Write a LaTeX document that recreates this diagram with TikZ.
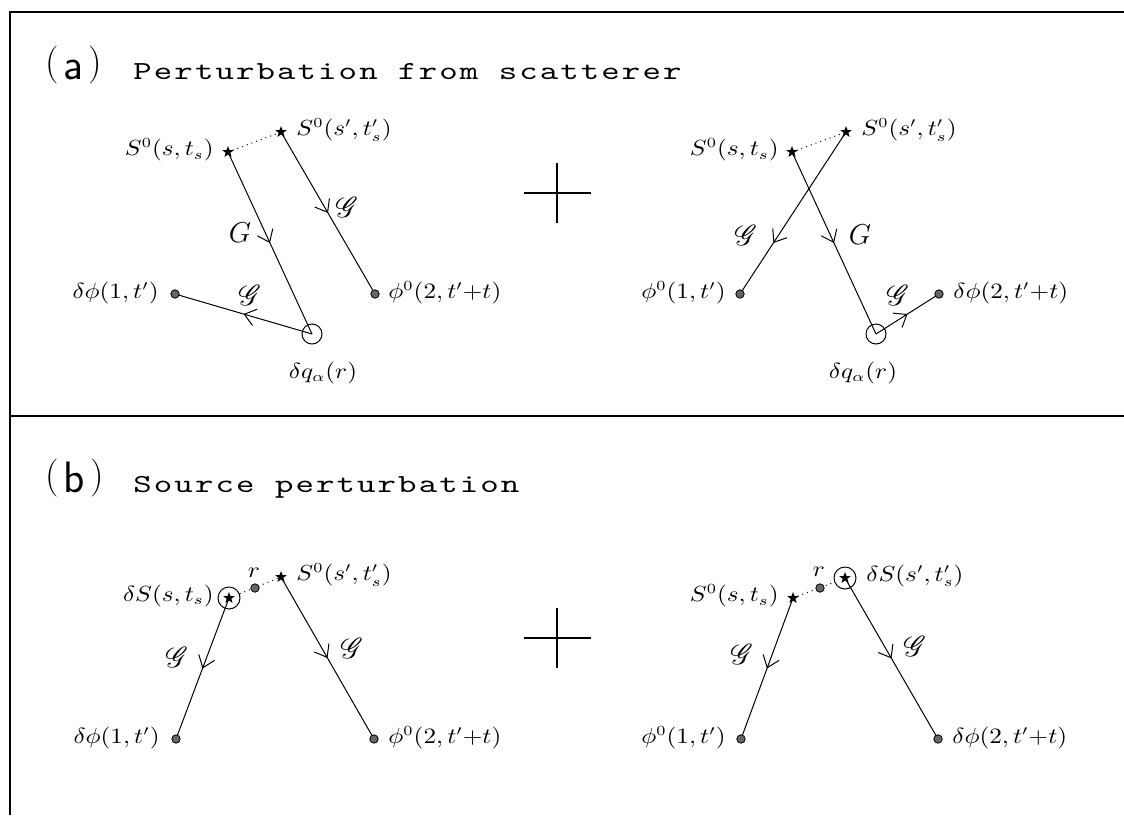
\documentclass[tikz,border=0pt]{standalone}
\usepackage{fontspec}
\usepackage{graphicx}
\usepackage{amsmath,amssymb}
\usepackage{mathrsfs}
\usetikzlibrary{arrows.meta,shapes.geometric,decorations.markings}
\pgfdeclarelayer{bg}
\pgfsetlayers{bg,main}
\newfontfamily\titlefont{lmmono10-regular.otf}[LetterSpace=6]
\newcommand\G{\mathscr{G}}
\newcommand\parthead[1]{\fontsize{19}{22}\selectfont\raisebox{2.5pt}{(}\hspace{2.5pt}{\sffamily\fontsize{22}{24}\selectfont #1}\hspace{2.5pt}\raisebox{2.5pt}{)}}
\newcommand\wide[1]{\scalebox{1.35}[1]{#1}}
\newcommand\lb[1]{\scalebox{1.15}[1]{$#1$}}

\tikzset{
  frame/.style={line width=0.7pt},
  lab/.style={font=\fontsize{10.5}{12}\selectfont, inner sep=1pt},
  big/.style={font=\fontsize{15}{17}\selectfont, inner sep=1pt},
  src/.style={star, star points=5, star point ratio=2.4, fill=black, inner sep=0pt, minimum size=6pt},
  rec/.style={circle, fill=black!60, draw=black, line width=0.4pt, inner sep=0pt, minimum size=4.2pt},
  scat/.style={circle, draw, line width=0.5pt, inner sep=0pt, minimum size=10pt},
  ring/.style={circle, draw, line width=0.5pt, inner sep=0pt, minimum size=11pt},
  prop/.style={line width=0.5pt, postaction={decorate},
    decoration={markings, mark=at position #1 with {\arrow{Straight Barb[length=5.5pt,width=8.5pt]}}}},
  prop/.default=0.5,
  link/.style={line width=0.5pt, dotted},
  plus/.style={line width=1.3pt},
  head/.style={anchor=base west, inner sep=0pt},
  title/.style={anchor=base west, inner sep=0pt, font=\titlefont\fontsize{13}{15}\selectfont}
}

\begin{document}
\begin{tikzpicture}[x=0.5pt,y=-0.5pt]
  \useasboundingbox (0,0) rectangle (1124,815);
  \draw[frame] (10,815) -- (10,12) -- (1124,12);
  \draw[frame] (10,416) -- (1124,416);

  % (a) perturbation from scatterer
  \node[head] (ta) at (45,79) {\parthead{a}};
  \node[title] (tta) at (133,79) {\wide{Perturbation from scatterer}};

  \node[src] (s1) at (228,152) {};
  \node[src] (s2) at (281,132) {};
  \node[scat] (q1) at (312,334) {};
  \node[rec] (r1) at (175,294) {};
  \node[rec] (r2) at (375,294) {};
  \node[lab, anchor=east] (ls1) at (216,150) {\lb{S^0(s,t_s)}};
  \node[lab, anchor=west] (ls2) at (294,130) {\lb{S^0(s',t'_s)}};
  \node[lab, anchor=east] (lr1) at (161,293) {\lb{\delta\phi(1,t')}};
  \node[lab, anchor=west] (lr2) at (386,293) {\lb{\phi^0(2,t'{+}t)}};
  \node[lab] (lq1) at (323,373) {\lb{\delta q_\alpha(r)}};
  \node[big] (g1) at (240,233) {$G$};
  \node[big] (g2) at (347,207) {$\G$};
  \node[big] (g3) at (250,295) {$\G$};
  \begin{pgfonlayer}{bg}
    \draw[link] (s1.center) -- (s2.center);
    \draw[prop] (s1.center) -- (q1.center);
    \draw[prop] (s2.center) -- (r2.center);
    \draw[prop] (q1.center) -- (r1.center);
  \end{pgfonlayer}

  \draw[plus] (524,193) -- (591,193) (557,163) -- (557,223);

  \node[src] (s3) at (792,152) {};
  \node[src] (s4) at (846,132) {};
  \node[scat] (q2) at (876,334) {};
  \node[rec] (r3) at (740,294) {};
  \node[rec] (r4) at (939,294) {};
  \node[lab, anchor=east] (ls3) at (781,150) {\lb{S^0(s,t_s)}};
  \node[lab, anchor=west] (ls4) at (859,130) {\lb{S^0(s',t'_s)}};
  \node[lab, anchor=east] (lr3) at (728,293) {\lb{\phi^0(1,t')}};
  \node[lab, anchor=west] (lr4) at (951,293) {\lb{\delta\phi(2,t'{+}t)}};
  \node[lab] (lq2) at (863,373) {\lb{\delta q_\alpha(r)}};
  \node[big] (g4) at (860,235) {$G$};
  \node[big] (g5) at (746,235) {$\G$};
  \node[big] (g6) at (898,295) {$\G$};
  \begin{pgfonlayer}{bg}
    \draw[link] (s3.center) -- (s4.center);
    \draw[prop] (s3.center) -- (q2.center);
    \draw[prop=0.685] (s4.center) -- (r3.center);
    \draw[prop] (q2.center) -- (r4.center);
  \end{pgfonlayer}

  % (b) source perturbation
  \node[head] (tb) at (45,492) {\parthead{b}};
  \node[title] (ttb) at (133,492) {\wide{Source perturbation}};

  \node[src] (s5) at (229,598) {};
  \node[ring] (c5) at (229,598) {};
  \node[rec] (p5) at (255,588) {};
  \node[src] (s6) at (281,577) {};
  \node[rec] (r5) at (176,739) {};
  \node[rec] (r6) at (374,739) {};
  \node[lab, anchor=east] (ls5) at (216,596) {\lb{\delta S(s,t_s)}};
  \node[lab, anchor=west] (ls6) at (294,575) {\lb{S^0(s',t'_s)}};
  \node[lab] (lp5) at (254,573) {\lb{r}};
  \node[lab, anchor=east] (lr5) at (162,738) {\lb{\delta\phi(1,t')}};
  \node[lab, anchor=west] (lr6) at (386,738) {\lb{\phi^0(2,t'{+}t)}};
  \node[big] (g7) at (177,657) {$\G$};
  \node[big] (g8) at (352,648) {$\G$};
  \begin{pgfonlayer}{bg}
    \draw[link] (c5) -- (s6.center);
    \draw[prop] (s5.center) -- (r5.center);
    \draw[prop] (s6.center) -- (r6.center);
  \end{pgfonlayer}

  \draw[plus] (524,638) -- (591,638) (557,608) -- (557,668);

  \node[src] (s7) at (793,598) {};
  \node[rec] (p7) at (820,588) {};
  \node[src] (s8) at (845,578) {};
  \node[ring] (c8) at (845,578) {};
  \node[rec] (r7) at (741,739) {};
  \node[rec] (r8) at (938,739) {};
  \node[lab, anchor=east] (ls7) at (781,596) {\lb{S^0(s,t_s)}};
  \node[lab, anchor=west] (ls8) at (864,576) {\lb{\delta S(s',t'_s)}};
  \node[lab] (lp7) at (819,572) {\lb{r}};
  \node[lab, anchor=east] (lr7) at (728,738) {\lb{\phi^0(1,t')}};
  \node[lab, anchor=west] (lr8) at (950,738) {\lb{\delta\phi(2,t'{+}t)}};
  \node[big] (g9) at (742,654) {$\G$};
  \node[big] (g10) at (915,646) {$\G$};
  \begin{pgfonlayer}{bg}
    \draw[link] (s7.center) -- (c8);
    \draw[prop] (s7.center) -- (r7.center);
    \draw[prop] (s8.center) -- (r8.center);
  \end{pgfonlayer}
\end{tikzpicture}
\end{document}
